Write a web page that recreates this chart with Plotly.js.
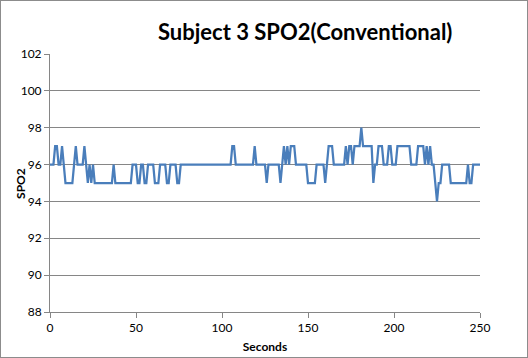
<!DOCTYPE html>
<html>
<head>
<meta charset="utf-8">
<script src="https://cdn.plot.ly/plotly-3.0.1.min.js"></script>
<style>
html,body{margin:0;padding:0;background:#fff;}
#chart{width:528px;height:358px;position:relative;}
#frame{position:absolute;left:0;top:0;width:526px;height:356px;border:1px solid #8c8c8c;pointer-events:none;}
</style>
</head>
<body>
<div id="chart"></div>
<div id="frame"></div>
<script>
// Time in seconds (0..250) and SPO2 readings
const seconds = [];
for (let s = 0; s <= 250; s++) seconds.push(s);

const spo2 = [
  96,96,96,97,97,96,96,97,96,95, // 0-9
  95,95,95,95,96,97,96,96,96,96, // 10-19
  97,96,95,96,95,96,95,95,95,95, // 20-29
  95,95,95,95,95,95,95,96,95,95, // 30-39
  95,95,95,95,95,95,95,95,96,96, // 40-49
  96,95,95,96,96,95,95,96,96,96, // 50-59
  96,95,95,95,96,96,96,96,95,95, // 60-69
  96,96,96,96,95,95,96,96,96,96, // 70-79
  96,96,96,96,96,96,96,96,96,96, // 80-89
  96,96,96,96,96,96,96,96,96,96, // 90-99
  96,96,96,96,96,96,97,97,96,96, // 100-109
  96,96,96,96,96,96,96,96,96,97, // 110-119
  96,96,96,96,96,96,95,96,96,96, // 120-129
  96,96,96,96,95,96,97,96,97,96, // 130-139
  97,97,97,96,96,96,96,96,96,96, // 140-149
  95,95,95,95,95,96,96,96,96,96, // 150-159
  95,96,97,97,97,96,96,96,96,96, // 160-169
  96,96,97,96,97,97,96,97,97,97, // 170-179
  97,98,97,97,97,97,97,97,95,96, // 180-189
  96,97,97,97,96,96,96,97,97,96, // 190-199
  96,96,97,97,97,97,97,97,97,97, // 200-209
  96,96,96,96,97,97,97,97,96,97, // 210-219
  96,97,96,96,95,94,95,95,96,96, // 220-229
  96,96,96,95,95,95,95,95,95,95, // 230-239
  95,95,95,96,95,95,96,96,96,96, // 240-249
  96                              // 250
];

const chartTitle = "Subject 3 SPO2(Conventional)";
const xTitle = "Seconds";
const yTitle = "SPO2";

const fam = "Lato, 'Open Sans', sans-serif";
const tickFont = {family: fam, size: 12, color: "#000"};

const trace = {
  x: seconds,
  y: spo2,
  type: "scatter",
  mode: "lines",
  line: {color: "#4a7ebb", width: 2.25},
  hoverinfo: "x+y"
};

const layout = {
  width: 528,
  height: 358,
  margin: {l: 50, r: 48, t: 54, b: 46},
  paper_bgcolor: "#fff",
  plot_bgcolor: "#fff",
  showlegend: false,
  title: {
    text: "<b>" + chartTitle + "</b>",
    font: {family: fam, size: 22, color: "#000"},
    xref: "container", yref: "container",
    x: 0.578, xanchor: "center",
    y: 0.91, yanchor: "middle"
  },
  xaxis: {
    range: [0, 250],
    tick0: 0, dtick: 50,
    showgrid: false,
    zeroline: false,
    showline: true, linecolor: "#868686", linewidth: 1,
    ticks: "outside", ticklen: 5, tickcolor: "#868686",
    tickfont: tickFont,
    title: {text: "<b>" + xTitle + "</b>", font: {family: fam, size: 12, color: "#000"}, standoff: 8}
  },
  yaxis: {
    range: [88, 102],
    tick0: 88, dtick: 2,
    showgrid: true, gridcolor: "#868686", gridwidth: 1,
    zeroline: false,
    showline: true, linecolor: "#868686", linewidth: 1,
    ticks: "outside", ticklen: 5, tickcolor: "#868686",
    tickfont: tickFont
  },
  annotations: [{
    text: "<b>" + yTitle + "</b>",
    font: {family: fam, size: 12, color: "#000"},
    textangle: -90,
    xref: "paper", yref: "paper",
    x: -0.07, xanchor: "center",
    y: 0.5, yanchor: "middle",
    showarrow: false
  }]
};

Plotly.newPlot("chart", [trace], layout, {displayModeBar: false});
</script>
</body>
</html>
